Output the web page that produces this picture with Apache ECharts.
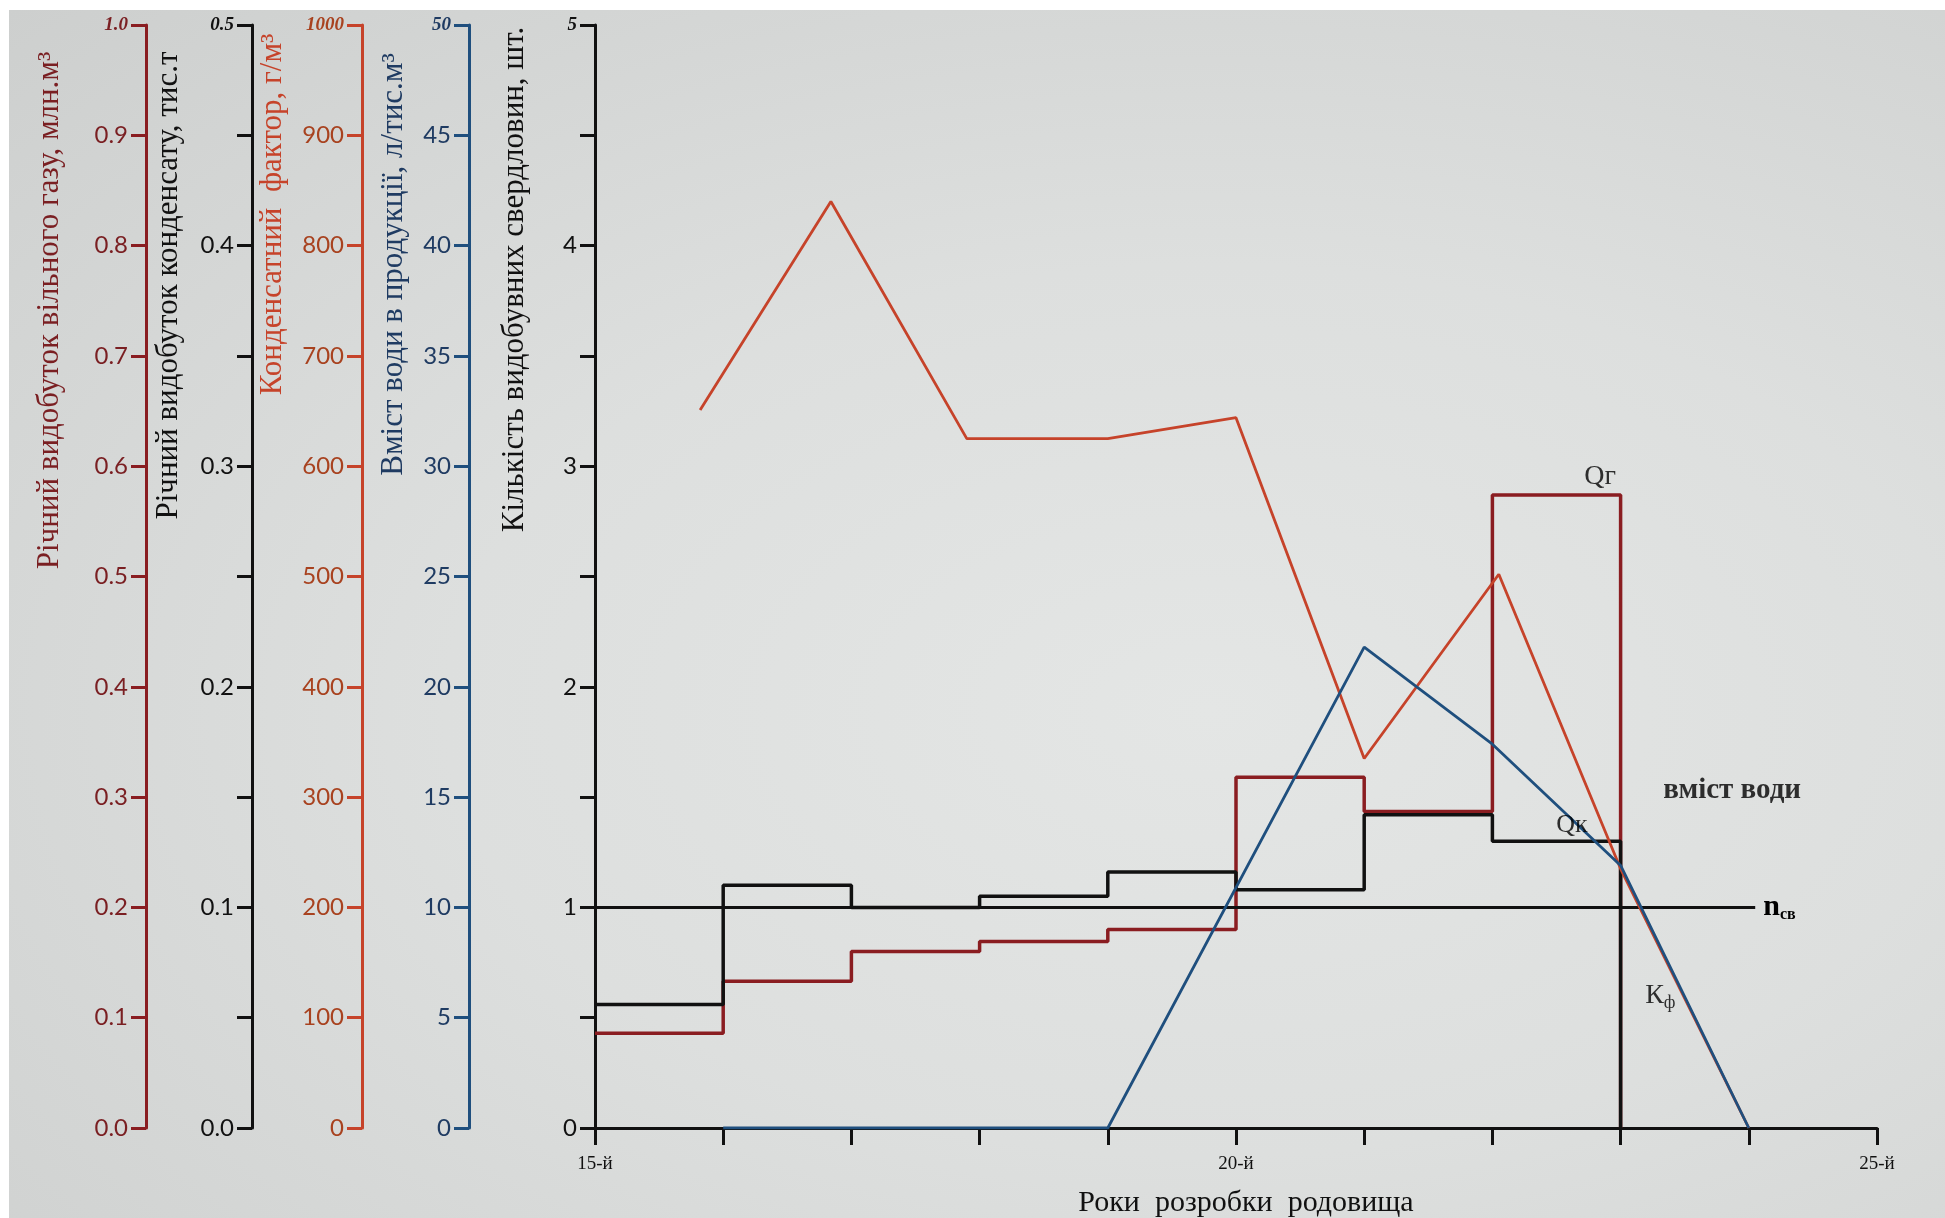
<!DOCTYPE html>
<html>
<head>
<meta charset="utf-8">
<script src="https://cdn.jsdelivr.net/npm/echarts@6/dist/echarts.min.js"></script>
<style>
  html, body { margin: 0; padding: 0; background: #ffffff; }
  #paper {
    position: absolute; left: 9px; top: 10px; width: 1936px; height: 1208px;
    background: radial-gradient(ellipse at 62% 58%, #e4e6e5 0%, #dddfde 45%, #cdcfce 100%);
  }
  #chart { position: absolute; left: 0; top: 0; width: 1945px; height: 1218px; }
</style>
</head>
<body>
<div id="paper"></div>
<div id="chart"></div>
<script>
// Production by development year (value holds from the year to the next one)
const stepYears        = [15, 16, 17, 18, 19, 20, 21, 22, 23];
const gasOutput        = [0.086, 0.133, 0.160, 0.169, 0.180, 0.318, 0.287, 0.574, 0];   // млн.м³
const condensateOutput = [0.056, 0.110, 0.100, 0.105, 0.116, 0.108, 0.142, 0.130, 0];   // тис.т

// Condensate factor, г/м³
const factorYears      = [15.82, 16.84, 17.9, 19.0, 20.0, 21.0, 22.05, 23.0, 24.0];
const condensateFactor = [651, 840, 625, 625, 644, 335, 502, 235, 0];

// Water content in production, л/тис.м³
const waterYears   = [16, 19, 21, 22, 23, 24];
const waterContent = [0, 0, 21.8, 17.4, 11.9, 0];

// Number of producing wells
const wellYears = [15, 24.05];
const wellCount = [1, 1];

// Labelled development years on the horizontal axis
const labelledYears = [15, 20, 25];

const SERIF = '"Liberation Serif", "DejaVu Serif", serif';
const SANS = 'Lato, "Open Sans", sans-serif';

const C_GAS = '#8a1d21';
const C_GAS_TXT = '#7a1f22';
const C_FACTOR = '#c6432a';
const C_FACTOR_TXT = '#a8421f';
const C_WATER = '#1f4f7e';
const C_WATER_TXT = '#1f3b62';
const C_BLACK = '#111111';

const zip = (xs, ys) => xs.map((x, i) => [x, ys[i]]);
const near = (a, b) => Math.abs(a - b) < 1e-6;

// A vertical scale on the left; the title runs upward beside it and is
// lifted from the middle of the axis by `lift` pixels.
function sideAxis(cfg) {
  return {
    type: 'value',
    position: 'left',
    offset: cfg.offset,
    min: cfg.min, max: cfg.max, interval: cfg.interval,
    splitLine: { show: false },
    axisLine: { show: true, onZero: false, lineStyle: { color: cfg.color, width: 3 } },
    axisTick: { show: true, inside: false, length: 15, lineStyle: { color: cfg.color, width: 3 } },
    axisLabel: {
      show: true, margin: 18, color: cfg.labelColor, fontFamily: SANS, fontSize: 24,
      formatter: cfg.formatter,
      rich: { t: { fontFamily: SERIF, fontStyle: 'italic', fontWeight: 'bold', fontSize: 19, color: cfg.labelColor } }
    },
    name: cfg.name,
    nameLocation: 'middle',
    nameRotate: 90,
    nameGap: cfg.nameGap,
    nameTruncate: { maxWidth: 5000 },
    nameTextStyle: {
      fontFamily: SERIF, fontSize: 31, lineHeight: 32, color: cfg.nameColor,
      padding: [0, 0, 0, 2 * cfg.lift]
    }
  };
}

const yAxes = [
  sideAxis({ // 0: wells
    offset: 0, min: 0, max: 5, interval: 0.5, color: C_BLACK, labelColor: C_BLACK,
    formatter: v => (near(v, Math.round(v)) ? (near(v, 5) ? '{t|5}' : String(Math.round(v))) : ''),
    name: 'Кількість видобувних свердловин, шт.', nameColor: C_BLACK, nameGap: 64, lift: 297
  }),
  sideAxis({ // 1: water content
    offset: 126, min: 0, max: 50, interval: 5, color: C_WATER, labelColor: C_WATER_TXT,
    formatter: v => (near(v, 50) ? '{t|50}' : String(Math.round(v))),
    name: 'Вміст води в продукції, л/тис.м³', nameColor: C_WATER_TXT, nameGap: 59, lift: 312
  }),
  sideAxis({ // 2: condensate factor
    offset: 233, min: 0, max: 1000, interval: 100, color: C_FACTOR, labelColor: C_FACTOR_TXT,
    formatter: v => (near(v, 1000) ? '{t|1000}' : String(Math.round(v))),
    name: 'Конденсатний  фактор, г/м³', nameColor: C_FACTOR, nameGap: 73, lift: 362
  }),
  sideAxis({ // 3: condensate output
    offset: 343, min: 0, max: 0.5, interval: 0.05, color: C_BLACK, labelColor: C_BLACK,
    formatter: v => {
      const t = v * 10;
      if (!near(t, Math.round(t))) return '';
      return near(v, 0.5) ? '{t|0.5}' : v.toFixed(1);
    },
    name: 'Річний видобуток конденсату, тис.т', nameColor: C_BLACK, nameGap: 67, lift: 291
  }),
  sideAxis({ // 4: gas output
    offset: 449, min: 0, max: 1, interval: 0.1, color: C_GAS, labelColor: C_GAS_TXT,
    formatter: v => (near(v, 1) ? '{t|1.0}' : v.toFixed(1)),
    name: 'Річний видобуток вільного газу, млн.м³', nameColor: C_GAS_TXT, nameGap: 80, lift: 266
  })
];

const option = {
  animation: false,
  backgroundColor: 'transparent',
  grid: { left: 595, right: 68, top: 25, bottom: 90, containLabel: false, outerBoundsMode: 'none' },
  xAxis: {
    type: 'value', min: 15, max: 25, interval: 1,
    splitLine: { show: false },
    axisLine: { onZero: false, lineStyle: { color: C_BLACK, width: 3 } },
    axisTick: { show: true, length: 17, lineStyle: { color: C_BLACK, width: 3 } },
    axisLabel: {
      margin: 27, color: C_BLACK, fontFamily: SERIF, fontSize: 19,
      formatter: v => (labelledYears.some(y => near(y, v)) ? Math.round(v) + '-й' : '')
    },
    name: 'Роки  розробки  родовища',
    nameLocation: 'middle', nameGap: 60,
    nameTextStyle: { fontFamily: SERIF, fontSize: 30, color: C_BLACK, padding: [0, 0, 0, 20] }
  },
  yAxis: yAxes,
  series: [
    {
      name: 'Qг', type: 'line', yAxisIndex: 4, step: 'end', symbol: 'none',
      data: zip(stepYears, gasOutput),
      lineStyle: { color: C_GAS, width: 3.5 }, z: 3
    },
    {
      name: 'Qк', type: 'line', yAxisIndex: 3, step: 'end', symbol: 'none',
      data: zip(stepYears, condensateOutput),
      lineStyle: { color: C_BLACK, width: 3.5 }, z: 4
    },
    {
      name: 'nсв', type: 'line', yAxisIndex: 0, symbol: 'none',
      data: zip(wellYears, wellCount),
      lineStyle: { color: C_BLACK, width: 3 }, z: 4,
      endLabel: {
        show: true, distance: 8, formatter: '{n|n}{s|св}',
        rich: {
          n: { fontFamily: SERIF, fontWeight: 'bold', fontSize: 30, color: '#000' },
          s: { fontFamily: SERIF, fontWeight: 'bold', fontSize: 16, color: '#000', padding: [14, 0, 0, 0] }
        }
      }
    },
    {
      name: 'Кф', type: 'line', yAxisIndex: 2, symbol: 'none',
      data: zip(factorYears, condensateFactor),
      lineStyle: { color: C_FACTOR, width: 2.8 }, z: 5
    },
    {
      name: 'вміст води', type: 'line', yAxisIndex: 1, symbol: 'none',
      data: zip(waterYears, waterContent),
      lineStyle: { color: C_WATER, width: 2.8 }, z: 6
    },
    { // curve captions for the production steps
      type: 'scatter', yAxisIndex: 4, symbolSize: 0, silent: true, z: 7,
      data: [{ value: [22.84, gasOutput[7]], name: 'Qг' }],
      label: { show: true, position: 'top', distance: 4, formatter: '{b}',
               fontFamily: SERIF, fontSize: 28, color: '#000' }
    },
    {
      type: 'scatter', yAxisIndex: 3, symbolSize: 0, silent: true, z: 7,
      data: [{ value: [22.62, condensateOutput[7]], name: 'Qк' }],
      label: { show: true, position: 'top', distance: 3, formatter: '{b}',
               fontFamily: SERIF, fontSize: 26, color: '#000' }
    },
    { // captions for the water content and condensate factor curves
      type: 'scatter', yAxisIndex: 0, symbolSize: 0, silent: true, z: 7,
      data: [
        { value: [23.87, 1.53], name: 'вміст води',
          label: { formatter: '{w|вміст води}' } },
        { value: [23.31, 0.6], name: 'Кф',
          label: { formatter: '{k|К}{f|ф}' } }
      ],
      label: {
        show: true, position: 'inside',
        rich: {
          w: { fontFamily: SERIF, fontWeight: 'bold', fontSize: 29, color: '#000' },
          k: { fontFamily: SERIF, fontSize: 28, color: '#000' },
          f: { fontFamily: SERIF, fontSize: 18, color: '#000', padding: [16, 0, 0, 0] }
        }
      }
    }
  ]
};

const chart = echarts.init(document.getElementById('chart'), null, { renderer: 'canvas' });
chart.setOption(option);
</script>
</body>
</html>
